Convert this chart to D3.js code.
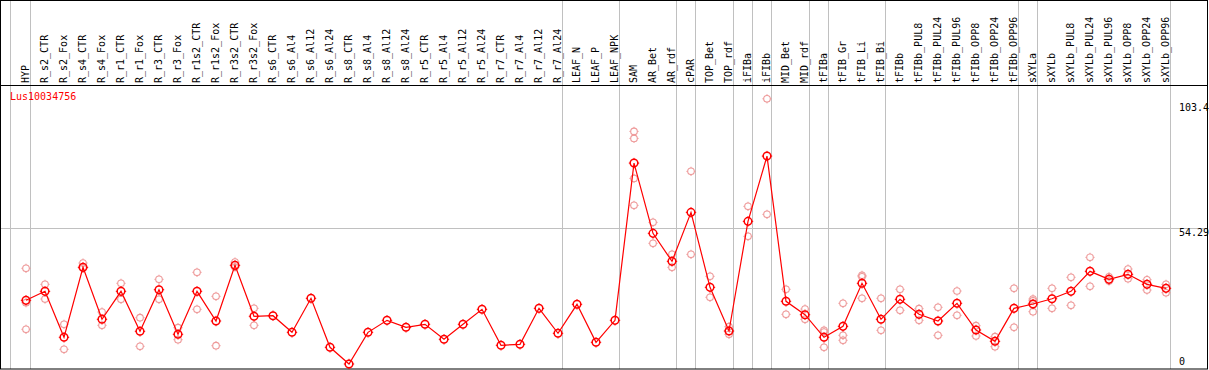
<!DOCTYPE html>
<html><head><meta charset="utf-8">
<script src="https://cdn.jsdelivr.net/npm/d3@7"></script>
<style>
html,body{margin:0;padding:0;background:#fff;}
svg{display:block;}
text{font-family:"DejaVu Sans Mono",monospace;font-size:10px;}
</style></head>
<body>
<script>
const categories = ["HYP","R_s2_CTR","R_s2_Fox","R_s4_CTR","R_s4_Fox","R_r1_CTR","R_r1_Fox","R_r3_CTR","R_r3_Fox","R_r1s2_CTR","R_r1s2_Fox","R_r3s2_CTR","R_r3s2_Fox","R_s6_CTR","R_s6_Al4","R_s6_Al12","R_s6_Al24","R_s8_CTR","R_s8_Al4","R_s8_Al12","R_s8_Al24","R_r5_CTR","R_r5_Al4","R_r5_Al12","R_r5_Al24","R_r7_CTR","R_r7_Al4","R_r7_Al12","R_r7_Al24","LEAF_N","LEAF_P","LEAF_NPK","SAM","AR_Bet","AR_rdf","cPAR","TOP_Bet","TOP_rdf","iFIBa","iFIBb","MID_Bet","MID_rdf","tFIBa","tFIB_Gr","tFIB_Li","tFIB_Bi","tFIBb","tFIBb_PUL8","tFIBb_PUL24","tFIBb_PUL96","tFIBb_OPP8","tFIBb_OPP24","tFIBb_OPP96","sXYLa","sXYLb","sXYLb_PUL8","sXYLb_PUL24","sXYLb_PUL96","sXYLb_OPP8","sXYLb_OPP24","sXYLb_OPP96"];

const means = [25.84,29.38,11.29,38.82,18.37,29.38,13.65,30.01,12.47,29.38,17.70,39.61,19.55,19.78,13.25,26.63,7.35,0.79,13.25,17.97,15.22,16.40,10.50,16.40,22.30,8.14,8.53,22.69,12.86,24.27,9.32,17.97,79.84,52.19,41.18,60.45,30.95,13.77,56.91,82.59,25.45,20.18,11.29,15.61,32.53,18.37,26.23,20.33,17.70,24.66,14.16,9.71,22.69,24.38,26.47,29.38,37.25,34.10,36.07,32.13,30.56];

const replicates = [
 [38.43,24.90,14.44],[32.13,26.35],[16.40,6.57],[40.51,38.54],[21.24,16.01],
 [32.53,26.23],[19.00,7.75],[34.10,26.23],[15.06,10.34],[36.85,22.30],
 [27.41,7.98],[40.90,38.94],[22.69,16.01],
 [],[],[],[],[],[],[],[],[],[],[],[],[],[],[],[],[],[],[],
 [92.31,89.55,73.82,63.20],[56.52,48.26],[43.93,38.82],[76.58,43.93],[35.28,27.02],
 [15.46,12.47],[62.81,51.01],[105.13,59.66],[30.17,20.33],[22.42,18.37],
 [14.04,13.37,7.35],[24.66,12.07,10.11],[35.67,35.12,26.63],[26.63,14.04],
 [30.17,21.91],[22.54,17.97],[23.09,12.07],[29.50,19.94],[15.85,11.80],
 [11.52,7.59],[30.56,15.22],[26.35,25.68,21.36],[30.56,22.69],[34.89,23.87],
 [42.75,31.35],[35.12,33.43],[38.15,34.34],[33.94,29.89],[32.13,28.83]
];

const yTicks = [0, 54.29, 103.4];
const gridValues = [54.29];
const groupEnds = ["HYP","R_r7_Al24","LEAF_NPK","AR_rdf","cPAR","TOP_rdf","iFIBa","iFIBb","MID_rdf","tFIBa","tFIB_Bi","tFIBb_OPP96","sXYLa","sXYLb_OPP96"];
const geneName = "Lus10034756";

const W = 1209, H = 370;
const svg = d3.select("body").append("svg").attr("width", W).attr("height", H);
svg.append("rect").attr("width", W).attr("height", H).attr("fill", "#fff");

const x = d3.scalePoint().domain(categories).range([26, 26 + 19 * (categories.length - 1)]);
const y = d3.scaleLinear().domain([0, 103.4]).range([366, 103.2]);

const gray = "#c0c0c0";
// vertical group separators
const sepX = [x(categories[0]) - 15.5].concat(groupEnds.map(c => x(c) + 4.5));
svg.append("g").selectAll("line").data(sepX).join("line")
  .attr("x1", d => d).attr("x2", d => d).attr("y1", 0).attr("y2", 369)
  .attr("stroke", gray).attr("stroke-width", 1);
// horizontal grid
svg.append("g").selectAll("line").data(gridValues).join("line")
  .attr("x1", 1).attr("x2", 1207).attr("y1", d => Math.round(y(d)) + 0.5).attr("y2", d => Math.round(y(d)) + 0.5)
  .attr("stroke", gray).attr("stroke-width", 1);

// frame
svg.append("rect").attr("x", 0.5).attr("y", 0.5).attr("width", 1207).attr("height", 368.5)
  .attr("fill", "none").attr("stroke", "#000").attr("stroke-width", 1);
svg.append("line").attr("x1", 0).attr("x2", 1208).attr("y1", 85.5).attr("y2", 85.5)
  .attr("stroke", "#000").attr("stroke-width", 1);

// column labels
svg.append("g").selectAll("text").data(categories).join("text")
  .attr("transform", d => `translate(${x(d) + 3},83) rotate(-90)`)
  .attr("fill", "#000").text(d => d);

// gene name
svg.append("text").attr("x", 10).attr("y", 100).attr("fill", "#ff0000").text(geneName);

// y tick labels
svg.append("g").selectAll("text").data(yTicks).join("text")
  .attr("x", 1179)
  .attr("y", d => d === 0 ? y(d) - 1 : y(d) + 8)
  .attr("fill", "#000").text(d => d);

const markPath = (cx, cy, r, t) =>
  `M${cx},${cy - r - t}V${cy - r}M${cx},${cy + r}V${cy + r + t}M${cx - r - t},${cy}H${cx - r}M${cx + r},${cy}H${cx + r + t}`;

// replicates
const repPts = [];
replicates.forEach((arr, i) => arr.forEach(v => repPts.push({c: categories[i], v})));
const pink = "#ee9a9a";
const rg = svg.append("g");
rg.selectAll("circle").data(repPts).join("circle")
  .attr("cx", d => x(d.c)).attr("cy", d => y(d.v)).attr("r", 3.3)
  .attr("fill", "none").attr("stroke", pink).attr("stroke-width", 1.1);
rg.selectAll("path").data(repPts).join("path")
  .attr("d", d => markPath(x(d.c), y(d.v), 3.3, 1.3))
  .attr("stroke", pink).attr("stroke-width", 1).attr("fill", "none");

// mean line
const line = d3.line().x((d, i) => x(categories[i])).y(d => y(d));
svg.append("path").datum(means).attr("d", line)
  .attr("fill", "none").attr("stroke", "#ff0000").attr("stroke-width", 1.2);

// mean markers
const mg = svg.append("g");
mg.selectAll("circle").data(means).join("circle")
  .attr("cx", (d, i) => x(categories[i])).attr("cy", d => y(d)).attr("r", 3.8)
  .attr("fill", "none").attr("stroke", "#ff0000").attr("stroke-width", 1.5);
mg.selectAll("path").data(means).join("path")
  .attr("d", (d, i) => markPath(x(categories[i]), y(d), 3.8, 1.4))
  .attr("stroke", "#ff0000").attr("stroke-width", 1).attr("fill", "none");
</script>
</body></html>
